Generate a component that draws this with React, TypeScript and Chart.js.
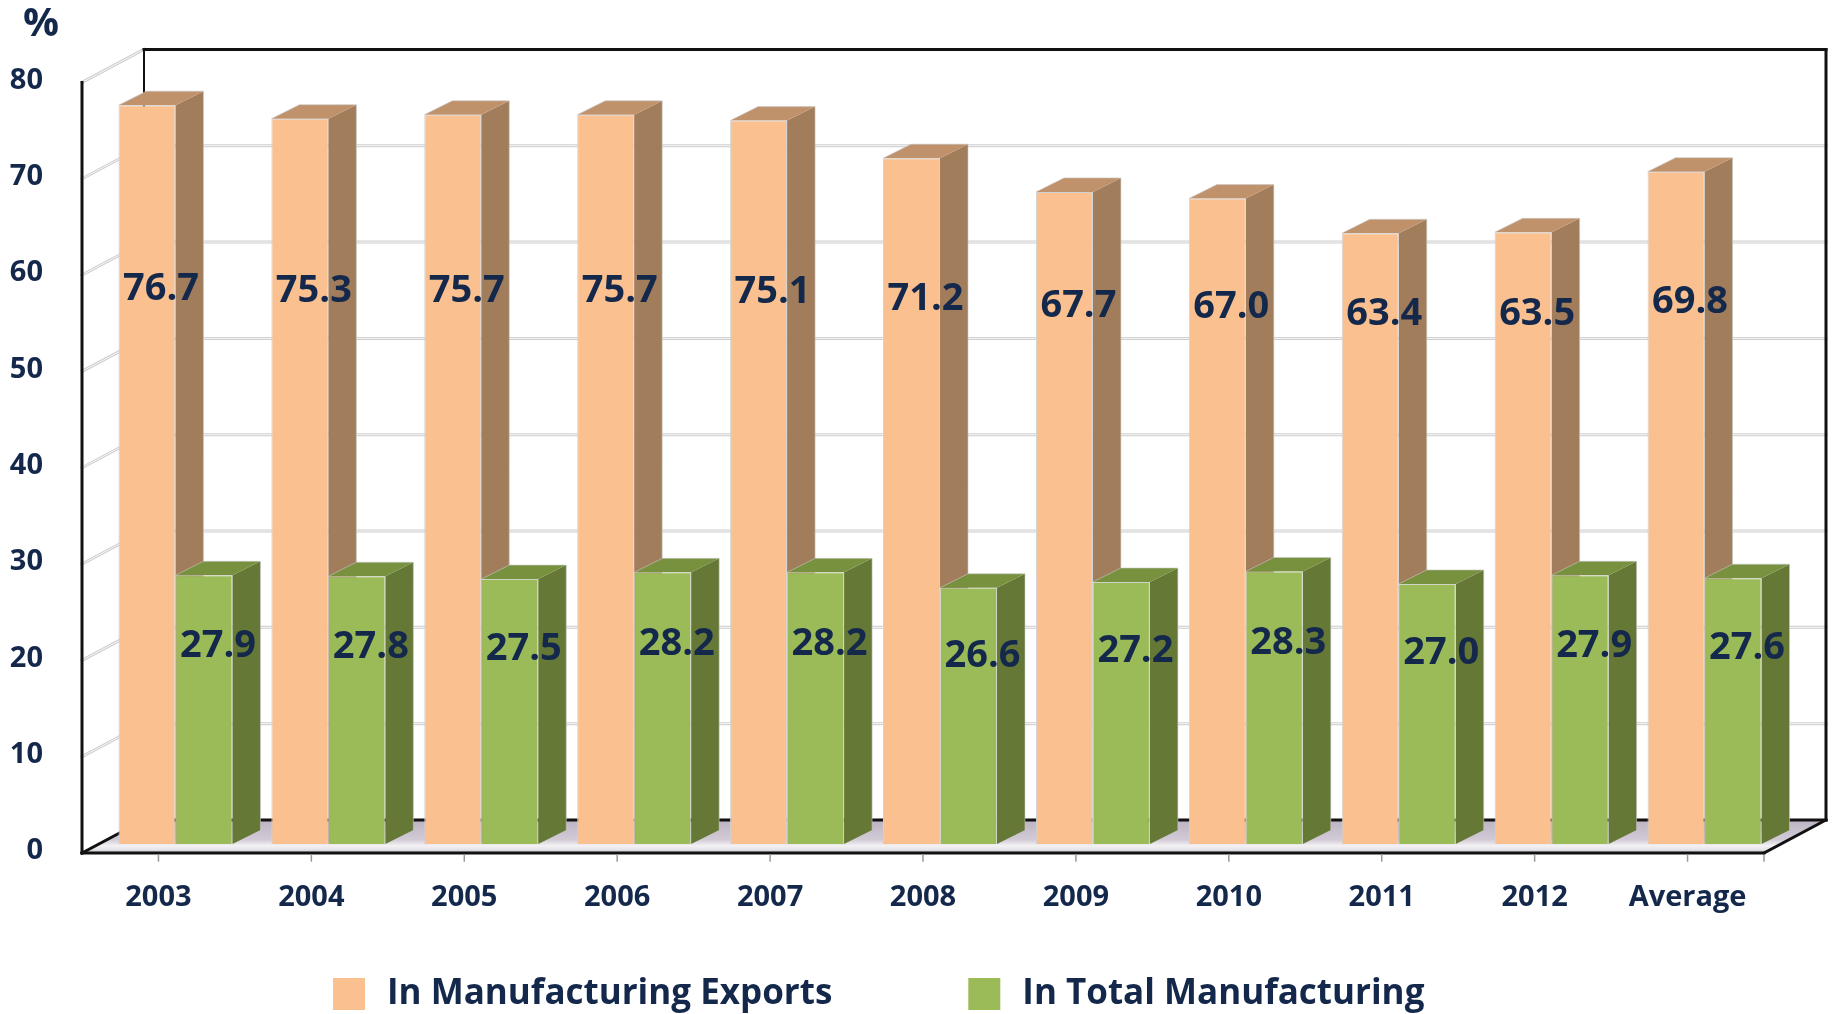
import { useEffect, useRef } from "react";
import { Chart, registerables } from "chart.js";

Chart.register(...registerables);

// ---- data ----
const categories = ["2003", "2004", "2005", "2006", "2007", "2008", "2009", "2010", "2011", "2012", "Average"];
const exportsShare = [76.7, 75.3, 75.7, 75.7, 75.1, 71.2, 67.7, 67.0, 63.4, 63.5, 69.8];
const totalShare = [27.9, 27.8, 27.5, 28.2, 28.2, 26.6, 27.2, 28.3, 27.0, 27.9, 27.6];
const seriesNames = ["In Manufacturing Exports", "In Total Manufacturing"];
const yMin = 0;
const yMax = 80;
const yStep = 10;
const unitLabel = "%";

// ---- styling ----
const NAVY = "#14284b";
const FONT = "'Open Sans', 'Noto Sans', sans-serif";
const faces = [
  { front: "#FAC090", side: "#A27D5B", top: "#C0926C" },
  { front: "#9BBB59", side: "#657836", top: "#77913F" },
];

// 3D projection offsets (pixels)
const DEPTH_X = 28; // bar depth
const DEPTH_Y = -14;
const FRONT_DX = -17; // bar plane -> front edge of the box
const FRONT_DY = 9;
const BACK_DX = 45; // bar plane -> back wall
const BACK_DY = -24;

const W = 1833;
const H = 1014;

function poly(ctx: CanvasRenderingContext2D, pts: number[][], fill: any) {
  ctx.beginPath();
  ctx.moveTo(pts[0][0], pts[0][1]);
  for (let i = 1; i < pts.length; i++) ctx.lineTo(pts[i][0], pts[i][1]);
  ctx.closePath();
  ctx.fillStyle = fill;
  ctx.fill();
}

function line(ctx: CanvasRenderingContext2D, a: number[], b: number[], color: string, width: number) {
  ctx.beginPath();
  ctx.moveTo(a[0], a[1]);
  ctx.lineTo(b[0], b[1]);
  ctx.strokeStyle = color;
  ctx.lineWidth = width;
  ctx.stroke();
}

function gridLine(ctx: CanvasRenderingContext2D, a: number[], b: number[]) {
  line(ctx, a, b, "#cfcfcf", 3);
  line(ctx, a, b, "#f7f7f7", 1);
}

function drawWalls(chart: any) {
  const { ctx, chartArea, scales } = chart;
  const ys = scales.y;
  const L = chartArea.left;
  const R = chartArea.right;
  const F = (px: number, v: number) => [px + FRONT_DX, ys.getPixelForValue(v) + FRONT_DY];
  const B = (px: number, v: number) => [px + BACK_DX, ys.getPixelForValue(v) + BACK_DY];
  ctx.save();
  ctx.lineCap = "square";

  // floor with soft shadow under the bars
  const fy = F(L, yMin)[1];
  const by = B(L, yMin)[1];
  const g = ctx.createLinearGradient(0, by, 0, fy);
  g.addColorStop(0, "#bdb3c3");
  g.addColorStop(0.6, "#d2cbd6");
  g.addColorStop(0.78, "#f4f2f5");
  g.addColorStop(0.9, "#e6e3e8");
  g.addColorStop(1, "#b8b6ba");
  poly(ctx, [F(L, yMin), F(R, yMin), B(R, yMin), B(L, yMin)], g);

  // grid lines on back and left walls
  for (let v = yMin + yStep; v < yMax; v += yStep) {
    gridLine(ctx, B(L, v), B(R, v));
    gridLine(ctx, F(L, v), B(L, v));
  }
  gridLine(ctx, F(L, yMax), B(L, yMax));

  // frame edges
  line(ctx, B(L, yMin), B(L, yMax), "#111", 2);
  line(ctx, B(L, yMax), B(R, yMax), "#111", 3);
  line(ctx, B(R, yMax), B(R, yMin), "#111", 3);
  line(ctx, B(L, yMin), B(R, yMin), "#111", 3);
  line(ctx, F(L, yMin), B(L, yMin), "#111", 3);
  line(ctx, F(R, yMin), B(R, yMin), "#111", 3);
  line(ctx, F(L, yMin), F(L, yMax), "#111", 3);
  line(ctx, F(L, yMin), F(R, yMin), "#111", 3);

  // category tick marks on the front edge
  const xs = scales.x;
  const tickXs = categories.map((_, i) => xs.getPixelForValue(i) + FRONT_DX);
  tickXs.push(R + FRONT_DX);
  tickXs.forEach((tx: number) => line(ctx, [tx, fy + 2], [tx, fy + 8], "#9a9a9a", 1.5));
  ctx.restore();
}

function drawBox(ctx: CanvasRenderingContext2D, bar: any, c: { side: string; top: string }) {
  const { x, y, base, width } = bar.getProps(["x", "y", "base", "width"], true);
  const l = x - width / 2;
  const r = x + width / 2;
  poly(ctx, [[r, y], [r + DEPTH_X, y + DEPTH_Y], [r + DEPTH_X, base + DEPTH_Y], [r, base]], c.side);
  poly(ctx, [[l, y], [l + DEPTH_X, y + DEPTH_Y], [r + DEPTH_X, y + DEPTH_Y], [r, y]], c.top);
  ctx.strokeStyle = "rgba(200,200,200,0.6)";
  ctx.lineWidth = 1;
  ctx.beginPath();
  ctx.moveTo(l, y);
  ctx.lineTo(l + DEPTH_X, y + DEPTH_Y);
  ctx.lineTo(r + DEPTH_X, y + DEPTH_Y);
  ctx.lineTo(r + DEPTH_X, base + DEPTH_Y);
  ctx.stroke();
  // front face, drawn by the bar element itself
  bar.draw(ctx);
}

const box3d = {
  id: "box3d",
  beforeDatasetsDraw(chart: any) {
    const { ctx } = chart;
    drawWalls(chart);
    // draw the boxes left to right, series by series inside each group,
    // so each bar's front hides the depth faces of its left neighbour
    const metas = chart.data.datasets.map((_: any, di: number) => chart.getDatasetMeta(di));
    ctx.save();
    categories.forEach((_, i) => {
      metas.forEach((meta: any, di: number) => {
        const bar = meta.data[i];
        if (bar) drawBox(ctx, bar, faces[di]);
      });
    });
    ctx.restore();
    return false;
  },
  afterDraw(chart: any) {
    const { ctx, scales } = chart;
    const ys = scales.y;
    ctx.save();

    // value labels
    ctx.fillStyle = NAVY;
    ctx.font = `bold 38px ${FONT}`;
    ctx.textAlign = "center";
    ctx.textBaseline = "middle";
    chart.data.datasets.forEach((ds: any, di: number) => {
      const meta = chart.getDatasetMeta(di);
      meta.data.forEach((bar: any, i: number) => {
        const v = ds.data[i] as number;
        const anchor = di === 0 ? 42.3 + 0.2 * v : 0.735 * v;
        ctx.fillText(v.toFixed(1), bar.x + DEPTH_X / 2, ys.getPixelForValue(anchor));
      });
    });

    // unit label
    ctx.font = `bold 40px ${FONT}`;
    ctx.fillText(unitLabel, 41, 25);

    // legend
    ctx.font = `bold 35px ${FONT}`;
    ctx.textAlign = "left";
    let lx = 333;
    const ly = 994;
    seriesNames.forEach((name, i) => {
      ctx.fillStyle = faces[i].front;
      ctx.fillRect(lx, ly - 16, 32, 32);
      ctx.fillStyle = NAVY;
      ctx.fillText(name, lx + 54, ly);
      lx += 54 + ctx.measureText(name).width + 136;
    });
    ctx.restore();
  },
};

export default function App() {
  const ref = useRef<HTMLCanvasElement | null>(null);

  useEffect(() => {
    const canvas = ref.current;
    if (!canvas) return;
    const chart = new Chart(canvas, {
      type: "bar",
      data: {
        labels: categories,
        datasets: [
          {
            label: seriesNames[0],
            data: exportsShare,
            backgroundColor: faces[0].front,
            borderColor: "#d2d2d2",
            borderWidth: 1,
          },
          {
            label: seriesNames[1],
            data: totalShare,
            backgroundColor: faces[1].front,
            borderColor: "#cfd5c4",
            borderWidth: 1,
          },
        ],
      },
      options: {
        responsive: false,
        animation: false,
        categoryPercentage: 0.7455,
        barPercentage: 1,
        layout: { padding: { left: 0, top: 67, right: 52, bottom: 0 } },
        plugins: {
          legend: { display: false },
          tooltip: { enabled: false },
        },
        scales: {
          x: {
            grid: { display: false, drawTicks: false },
            border: { display: false },
            ticks: {
              color: NAVY,
              font: { family: FONT, weight: "bold", size: 29 },
              labelOffset: FRONT_DX,
              padding: 36,
              maxRotation: 0,
            },
            afterFit: (s: any) => {
              s.height = 170;
            },
          },
          y: {
            min: yMin,
            max: yMax,
            grid: { display: false, drawTicks: false },
            border: { display: false },
            ticks: {
              stepSize: yStep,
              color: NAVY,
              font: { family: FONT, weight: "bold", size: 29 },
              labelOffset: FRONT_DY - 2,
              padding: 56,
            },
            afterFit: (s: any) => {
              s.width = 99;
            },
          },
        },
      } as any,
      plugins: [box3d],
    });
    return () => chart.destroy();
  }, []);

  return (
    <div style={{ position: "absolute", left: 0, top: 0, width: W, height: H, background: "#fff" }}>
      <canvas ref={ref} width={W} height={H} style={{ display: "block" }} />
    </div>
  );
}
